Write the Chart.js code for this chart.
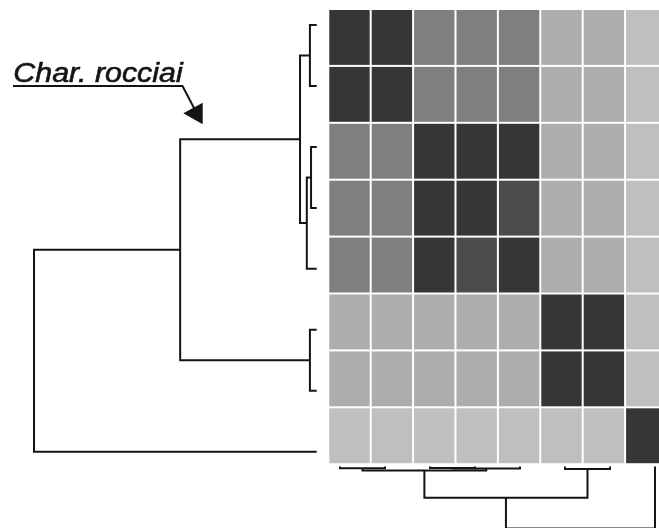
<!DOCTYPE html>
<html><head><meta charset="utf-8">
<script src="https://cdn.jsdelivr.net/npm/chart.js@4/dist/chart.umd.min.js"></script>
<style>html,body{margin:0;padding:0;background:#fff}#wrap{width:659px;height:528px;position:relative}</style>
</head><body><div id="wrap"><canvas id="c"></canvas></div>
<script>
// ---- data ----
const levelColors = ['#bfbfbf', '#adadad', '#7f7f7f', '#4b4b4b', '#363636'];
const heat = [
  [4, 4, 2, 2, 2, 1, 1, 0],
  [4, 4, 2, 2, 2, 1, 1, 0],
  [2, 2, 4, 4, 4, 1, 1, 0],
  [2, 2, 4, 4, 3, 1, 1, 0],
  [2, 2, 4, 3, 4, 1, 1, 0],
  [1, 1, 1, 1, 1, 4, 4, 0],
  [1, 1, 1, 1, 1, 4, 4, 0],
  [0, 0, 0, 0, 0, 0, 0, 4]
];
// linkage: leaves 0..7, merged clusters 8..14
const merges = [[0, 1], [2, 3], [9, 4], [8, 10], [5, 6], [11, 12], [13, 7]];
const rowHeights = [0.024, 0.020, 0.035, 0.059, 0.024, 0.483, 1.0];
const colHeights = [0.029, 0.024, 0.032, 0.066, 0.040, 0.505, 1.0];
const annotationText = 'Char. rocciai';

// ---- build dendrogram segments ----
function dendroSegments(heights, horizontal) {
  const pos = [0, 1, 2, 3, 4, 5, 6, 7];
  const h = [0, 0, 0, 0, 0, 0, 0, 0];
  const segs = [];
  merges.forEach(([a, b], k) => {
    const hn = heights[k];
    const pts = [[h[a], pos[a]], [hn, pos[a]], [hn, pos[b]], [h[b], pos[b]]];
    segs.push(pts.map(([hh, p]) => horizontal ? {x: hh, y: p} : {x: p, y: hh}));
    pos.push((pos[a] + pos[b]) / 2);
    h.push(hn);
  });
  return segs;
}
const lineStyle = {showLine: true, pointRadius: 0, borderColor: '#141414', borderWidth: 2, fill: false, tension: 0};
const datasets = [];
dendroSegments(rowHeights, true).forEach(d => datasets.push(Object.assign({data: d, xAxisID: 'rx', yAxisID: 'ry'}, lineStyle)));
dendroSegments(colHeights, false).forEach(d => datasets.push(Object.assign({data: d, xAxisID: 'cx', yAxisID: 'cy'}, lineStyle)));

const heatPlugin = {
  id: 'heat',
  beforeDatasetsDraw(chart) {
    const ctx = chart.ctx, xs = chart.scales.x, ys = chart.scales.y;
    ctx.save();
    heat.forEach((row, r) => row.forEach((v, c) => {
      const x0 = xs.getPixelForValue(c), x1 = xs.getPixelForValue(c + 1);
      const y0 = ys.getPixelForValue(r), y1 = ys.getPixelForValue(r + 1);
      ctx.fillStyle = levelColors[v];
      ctx.fillRect(x0 + 1, y0 + 1, x1 - x0 - 2, y1 - y0 - 2);
    }));
    ctx.restore();
  }
};
const annotPlugin = {
  id: 'annot',
  afterDraw(chart) {
    const ctx = chart.ctx;
    ctx.save();
    ctx.fillStyle = '#141414';
    ctx.strokeStyle = '#141414';
    ctx.font = 'italic 27px "Liberation Sans", Arial, sans-serif';
    ctx.textBaseline = 'alphabetic';
    const w = ctx.measureText(annotationText).width;
    ctx.save();
    ctx.translate(13.3, 82);
    ctx.scale(169.4 / w, 1);
    ctx.lineWidth = 0.6;
    ctx.fillText(annotationText, 0, 0);
    ctx.strokeText(annotationText, 0, 0);
    ctx.restore();
    ctx.fillRect(13, 85, 170, 2);
    ctx.lineWidth = 2;
    ctx.beginPath();
    ctx.moveTo(182.5, 86);
    ctx.lineTo(194, 108);
    ctx.stroke();
    ctx.beginPath();
    ctx.moveTo(183.3, 113.3);
    ctx.lineTo(202.7, 102.7);
    ctx.lineTo(202.7, 124.3);
    ctx.closePath();
    ctx.fill();
    ctx.restore();
  }
};

new Chart(document.getElementById('c'), {
  type: 'scatter',
  data: {datasets},
  options: {
    responsive: true,
    maintainAspectRatio: false,
    animation: false,
    layout: {padding: 0},
    plugins: {legend: {display: false}, tooltip: {enabled: false}},
    scales: {
      x: {type: 'linear', display: false, min: -7.743, max: 7.800},
      y: {type: 'linear', display: false, reverse: true, min: -0.158, max: 9.121},
      rx: {type: 'linear', axis: 'x', display: false, reverse: true, min: -1.2108, max: 1.1203},
      ry: {type: 'linear', axis: 'y', display: false, reverse: true, min: -0.4101, max: 8.2513},
      cx: {type: 'linear', axis: 'x', display: false, min: -7.5556, max: 7.0889},
      cy: {type: 'linear', axis: 'y', display: false, reverse: true, min: -7.512, max: 0.9903}
    }
  },
  plugins: [heatPlugin, annotPlugin]
});
</script>
</body></html>
